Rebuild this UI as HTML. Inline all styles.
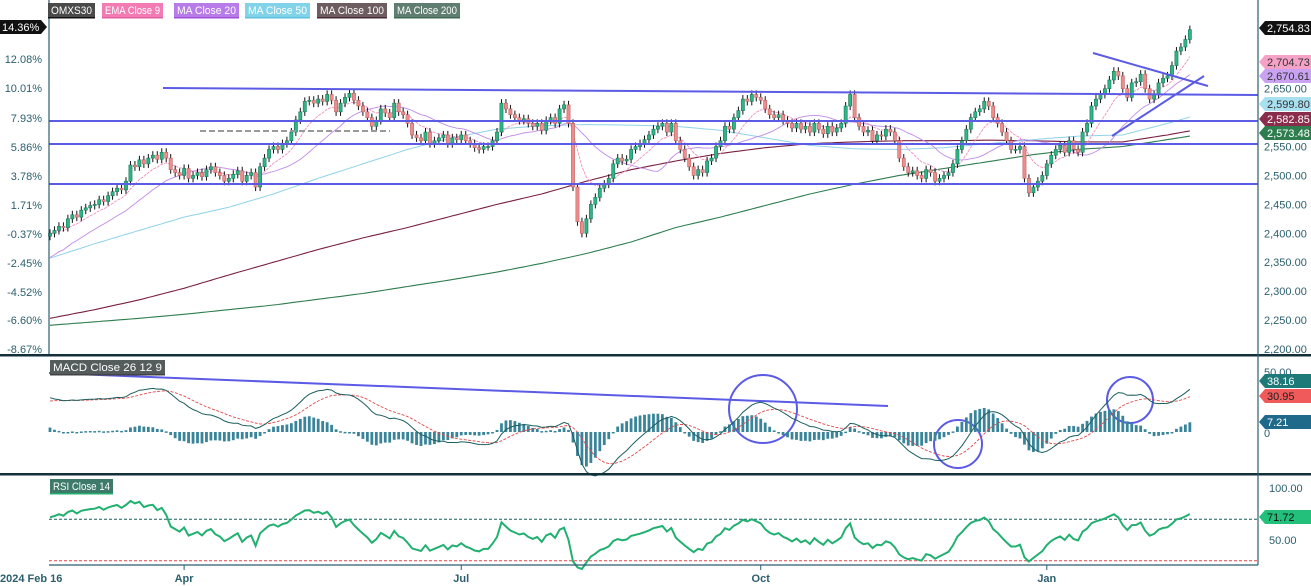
<!DOCTYPE html>
<html><head><meta charset="utf-8">
<style>
html,body{margin:0;padding:0;background:#fff;width:1311px;height:586px;overflow:hidden}
svg{display:block;font-family:"Liberation Sans",sans-serif}
</style></head>
<body>
<svg id="chart" width="1311" height="586" viewBox="0 0 1311 586" xmlns="http://www.w3.org/2000/svg">
<rect width="1311" height="586" fill="#fff"/>
<g id="grid"></g>
<g id="ma"></g>
<g id="candles"></g>
<g id="draw"></g>
<g id="macd"></g>
<g id="rsi"></g>
<g id="axes"></g>
</svg>
<script>
// ===== DATA =====
const closes = [
2400,2405,2412,2410,2425,2432,2428,2440,2444,2448,
2450,2458,2455,2465,2472,2478,2475,2490,2518,2515,
2527,2520,2530,2535,2528,2540,2530,2510,2505,2500,
2512,2495,2500,2505,2498,2510,2515,2505,2500,2490,
2495,2502,2508,2490,2500,2505,2480,2515,2530,2545,
2550,2545,2555,2560,2575,2596,2610,2628,2630,2625,
2632,2628,2640,2630,2610,2625,2635,2642,2630,2620,
2610,2600,2585,2595,2615,2608,2600,2625,2610,2605,
2590,2570,2565,2560,2575,2555,2560,2565,2570,2555,
2565,2562,2570,2560,2555,2548,2545,2550,2550,2560,
2575,2625,2615,2605,2600,2595,2598,2590,2585,2590,
2578,2595,2600,2590,2615,2622,2590,2480,2420,2400,
2425,2450,2462,2478,2485,2495,2520,2530,2525,2528,
2545,2550,2555,2562,2570,2580,2585,2590,2575,2590,
2560,2545,2530,2515,2500,2510,2505,2525,2530,2550,
2560,2585,2580,2600,2612,2632,2628,2640,2635,2630,
2615,2605,2600,2605,2595,2590,2582,2590,2580,2585,
2575,2590,2580,2572,2585,2575,2582,2590,2620,2640,
2600,2585,2575,2578,2560,2570,2568,2580,2575,2560,
2530,2515,2505,2508,2500,2495,2510,2505,2490,2495,
2500,2505,2520,2545,2560,2580,2600,2610,2615,2628,
2620,2600,2590,2575,2560,2545,2545,2550,2495,2470,
2480,2490,2500,2520,2535,2545,2552,2540,2560,2545,
2540,2575,2590,2620,2632,2640,2650,2665,2680,2672,
2650,2635,2660,2662,2675,2650,2632,2640,2660,2668,
2672,2690,2715,2722,2735,2752];
const firstOpen = 2395;
// moving averages read every 10 bars
const ma50s = [2357,2382,2405,2428,2445,2468,2495,2520,2545,2565,2580,2586,2588,2587,2585,2578,2565,2552,2546,2545,2548,2555,2562,2568,2570,2590,2612];
const ma100s = [2253,2268,2285,2305,2328,2350,2372,2392,2410,2430,2450,2468,2490,2510,2525,2538,2548,2555,2558,2560,2560,2561,2560,2558,2558,2570,2584];
const ma200s = [2241,2247,2253,2260,2268,2276,2286,2296,2308,2320,2333,2348,2365,2385,2410,2428,2448,2468,2485,2500,2512,2524,2536,2545,2550,2562,2574];
const priceTicks = [2200,2250,2300,2350,2400,2450,2500,2550,2650];
const pctTicks = ["14.36%","12.08%","10.01%","7.93%","5.86%","3.78%","1.71%","-0.37%","-2.45%","-4.52%","-6.60%","-8.67%"];
const pctY = [27,59,88,118,147,176,205,234,263,292,320,349];
const monthLabels = ["2024 Feb 16","Apr","Jul","Oct","Jan"];
const monthIdx = [0,30,92,159,223];
const ema12Seed = 2390, ema26Seed = 2360, avgGainSeed = 6, avgLossSeed = 2.5;

// ===== SCALES =====
const NS='http://www.w3.org/2000/svg';
const xOf = i => 50 + 4.47*i;
const yP = p => 349 - (p-2200)*0.5785;
const yM = v => 432 - v*1.2;
const yR = v => 540 - (v-50)*1.04;
function mk(parent, tag, attrs, text){
  const e=document.createElementNS(NS,tag);
  for(const k in attrs) e.setAttribute(k,attrs[k]);
  if(text!==undefined) e.textContent=text;
  document.getElementById(parent).appendChild(e); return e;
}
const N = closes.length;

// ===== computed indicators =====
const ema9=[], ma20=[];
let e9=closes[0];
for(let i=0;i<N;i++){
  e9 = i===0?closes[0]: e9 + (closes[i]-e9)*0.2; ema9.push(e9);
  const s=Math.max(0,i-19); let sum=0; for(let j=s;j<=i;j++) sum+=closes[j];
  let m=sum/(i-s+1); if(i<19) m = m - (19-i)*2.2; ma20.push(m);
}
const macdV=[], sigV=[];
let e12=ema12Seed, e26=ema26Seed, sg=25;
for(let i=0;i<N;i++){
  e12 += (closes[i]-e12)*2/13; e26 += (closes[i]-e26)*2/27;
  const m=e12-e26; sg += (m-sg)*0.2; macdV.push(m); sigV.push(sg);
}
const rsiV=[]; let ag=avgGainSeed, al=avgLossSeed;
for(let i=0;i<N;i++){
  const prev = i===0?firstOpen:closes[i-1]; const d=closes[i]-prev;
  ag=(ag*13+Math.max(d,0))/14; al=(al*13+Math.max(-d,0))/14;
  rsiV.push(100-100/(1+ag/al));
}
function sampledY(arr,i){ const k=i/10, a=Math.floor(k), f=k-a; const v=arr[a]+(arr[Math.min(a+1,arr.length-1)]-arr[a])*f; return v; }

// ===== MAIN PANEL =====
function polyline(parent, vals, yf, color, w, dash, name){
  let d=''; vals.forEach((v,i)=>{ d+=(i?'L':'M')+xOf(i).toFixed(1)+','+yf(v).toFixed(1); });
  const p=mk(parent,'path',{d:d,fill:'none',stroke:color,'stroke-width':w});
  if(dash) p.setAttribute('stroke-dasharray',dash);
  
  
}
const m200=[],m100=[],m50=[];
for(let i=0;i<N;i++){ m200.push(sampledY(ma200s,i)); m100.push(sampledY(ma100s,i)); m50.push(sampledY(ma50s,i)); }
polyline('ma',m200,yP,'#2e7d4f',1.1,null,'ma200-line');
polyline('ma',m100,yP,'#7a2040',1.1,null,'ma100-line');
polyline('ma',m50,yP,'#8fd3e8',1,null,'ma50-line');
polyline('ma',ma20,yP,'#c08ae8',0.9,null,'ma20-line');
polyline('ma',ema9,yP,'#f28fbf',0.9,'3,1','ema9-line');

for(let i=0;i<N;i++){
  const o = i===0?firstOpen:closes[i-1], c=closes[i];
  const up=c>=o, x=xOf(i);
  const hi=Math.max(o,c)+7, lo=Math.min(o,c)-7;
  const w=mk('candles','line',{x1:x,x2:x,y1:yP(hi),y2:yP(lo),stroke:'#111','stroke-width':1});
  
  
  const top=yP(Math.max(o,c)), h=Math.max(1,Math.abs(yP(o)-yP(c)));
  const b=mk('candles','rect',{x:x-1.6,y:top,width:3.2,height:h,fill:up?'#2fb486':'#ec8e8e',stroke:up?'#1c7a5a':'#c06262','stroke-width':0.6});
  
  
}

// drawings
function ln(x1,y1,x2,y2,name,w,col,dash){
  const l=mk('draw','line',{x1,y1,x2,y2,stroke:col||'#5b5be6','stroke-width':w||2});
  if(dash) l.setAttribute('stroke-dasharray',dash);
  
  
}
ln(163,88,1258,95,'resistance-line-top');
ln(49,121,1258,121,'support-line-1');
ln(49,144,1258,144,'support-line-2');
ln(49,184,1258,184,'support-line-3');
ln(200,131,390,131,'dashed-level',2,'#999','6,3');
ln(1093,53,1208,86,'triangle-upper');
ln(1112,136,1204,76,'triangle-lower');
ln(49,373,888,406,'macd-trendline');
function circ(cx,cy,r,name){ const c=mk('draw','circle',{cx,cy,r,fill:'none',stroke:'#5b5be6','stroke-width':2});   }
circ(763,409,34,'macd-circle-1'); circ(958,444,24,'macd-circle-2'); circ(1130,400,23,'macd-circle-3');

// ===== MACD =====
for(let i=0;i<N;i++){
  const h=(macdV[i]-sigV[i])*1.3, y0=yM(0), y1=y0-h*1.2;
  const r=mk('macd','rect',{x:xOf(i)-1.4,y:Math.min(y0,y1),width:2.8,height:Math.max(1.5,Math.abs(y1-y0)),fill:'#3a8499'});
  
  
}
polyline('macd',sigV,yM,'#e04848',0.9,'3,1.5','macd-signal-line');
polyline('macd',macdV,yM,'#1b5e5e',1,null,'macd-line');

// ===== RSI =====
mk('rsi','line',{x1:49,x2:1258,y1:yR(70),y2:yR(70),stroke:'#1b5e5e','stroke-dasharray':'3,2','stroke-width':1,});
mk('rsi','line',{x1:49,x2:1258,y1:yR(30),y2:yR(30),stroke:'#e04848','stroke-dasharray':'3,2','stroke-width':1,});
polyline('rsi',rsiV,yR,'#22b070',2,null,'rsi-line');

// ===== AXES =====
const A='axes';
[[0,355],[0,474]].forEach((p,k)=>mk(A,'rect',{x:0,y:p[1]-1,width:1311,height:2.5,fill:'#13303a',}));
mk(A,'line',{x1:1258,x2:1258,y1:0,y2:565,stroke:'#2b5f6e','stroke-width':1.2,});
mk(A,'line',{x1:49,x2:49,y1:0,y2:354,stroke:'#2b5f6e','stroke-width':1.2,});
mk(A,'line',{x1:49,x2:1258,y1:565,y2:565,stroke:'#2b5f6e','stroke-width':1.2,});
priceTicks.forEach(p=>{ const t=mk(A,'text',{x:1264,y:yP(p)+4,'font-size':11,fill:'#2b5f6e'}, p.toLocaleString('en-US',{minimumFractionDigits:2}));   });
pctTicks.forEach((s,k)=>{ if(k===0) return; const t=mk(A,'text',{x:42,y:pctY[k]+4,'font-size':11,fill:'#2b5f6e','text-anchor':'end'},s);   });
monthLabels.forEach((s,k)=>{ const x=xOf(monthIdx[k]); const t=mk(A,'text',{x:k===0?0:x,y:582,'font-size':11,'font-weight':'bold',fill:'#2b5f6e','text-anchor':k===0?'start':'middle'},s);  
  if(k>0){ const tk=mk(A,'line',{x1:x,x2:x,y1:565,y2:570,stroke:'#2b5f6e'});   } });
// tags
function tag(x,y,w,bg,fg,text,name){
  const g=mk(A,'g',{});
  
  
  const p=document.createElementNS(NS,'path'); p.setAttribute('d',`M${x},${y} l6,-7 h${w} v14 h-${w} z`); p.setAttribute('fill',bg); g.appendChild(p);
  const t=document.createElementNS(NS,'text'); t.setAttribute('x',x+8); t.setAttribute('y',y+4); t.setAttribute('font-size',11); t.setAttribute('fill',fg); t.textContent=text; g.appendChild(t);
}
tag(1259,28,52,'#111','#fff','2,754.83','last-price-tag');
tag(1259,62,52,'#f6a2c8','#333','2,704.73','ema9-tag');
tag(1259,76,52,'#c9a2f2','#333','2,670.61','ma20-tag');
tag(1259,104,52,'#a9e0f0','#333','2,599.80','ma50-tag');
tag(1259,119,52,'#8a2c4c','#fff','2,582.85','ma100-tag');
tag(1259,133,52,'#2e7d4f','#fff','2,573.48','ma200-tag');
const t50=mk(A,'text',{x:1264,y:376,'font-size':11,fill:'#2b5f6e'},'50.00');  
const t0=mk(A,'text',{x:1264,y:437,'font-size':11,fill:'#2b5f6e'},'0');  
tag(1259,381,52,'#1d7a78','#fff','38.16','macd-value-tag');
tag(1259,396,52,'#f05a5a','#222','30.95','signal-value-tag');
tag(1259,422,52,'#1f6a8a','#fff','7.21','histogram-value-tag');
const r100=mk(A,'text',{x:1269,y:492,'font-size':11,fill:'#2b5f6e'},'100.00');  
const r50=mk(A,'text',{x:1269,y:544,'font-size':11,fill:'#2b5f6e'},'50.00');  
tag(1259,517,52,'#22c07a','#111','71.72','rsi-value-tag');
// left pct tag
const lt=mk(A,'g',{});  
mk(A,'path',{d:'M0,20 h41 l6,7 l-6,7 h-41 z',fill:'#111'});
mk(A,'text',{x:2,y:31,'font-size':11,fill:'#fff'},pctTicks[0]);
// legends
function legend(x,y,w,bg,ul,text,name){
  const r=mk(A,'rect',{x,y,width:w,height:14,fill:bg});  
  mk(A,'rect',{x,y:y+14,width:w,height:1.5,fill:ul});
  mk(A,'text',{x:x+3,y:y+11,'font-size':11,fill:'#fff',textLength:w-6,lengthAdjust:'spacingAndGlyphs'},text);
}
legend(48,3,47,'#4a4a4a','#111','OMXS30','legend-omxs30');
legend(102,3,61,'#f27bb3','#e060a0','EMA Close 9','legend-ema9');
legend(174,3,65,'#b77ce8','#9a50d8','MA Close 20','legend-ma20');
legend(245,3,65,'#82d3ea','#5cc0e0','MA Close 50','legend-ma50');
legend(317,3,70,'#6d5c60','#4a2a34','MA Close 100','legend-ma100');
legend(394,3,66,'#5f7d70','#3e6a50','MA Close 200','legend-ma200');
legend(50,360,115,'#555c5c','#444','MACD Close 26 12 9','legend-macd');
legend(50,479,63,'#3d7a6a','#22b070','RSI Close 14','legend-rsi');
</script>
</body></html>
